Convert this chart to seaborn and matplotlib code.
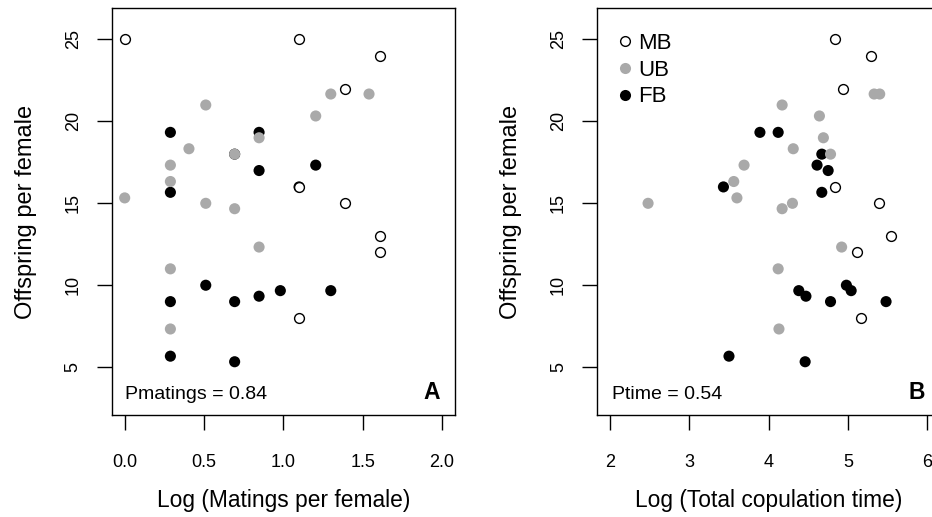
import numpy as np
import pandas as pd
import matplotlib
matplotlib.use("Agg")
import matplotlib.pyplot as plt
import seaborn as sns
from matplotlib.lines import Line2D

# ---------------- data ----------------
# Panel A: log(matings per female) vs offspring per female
a_mb_x = [0.0, 1.099, 1.609, 1.386, 1.099, 1.386, 1.609, 1.609, 1.099]
a_mb_y = [25.0, 25.0, 24.0, 22.0, 16.0, 15.0, 13.0, 12.0, 8.0]
a_ub_x = [0.0, 0.511, 1.299, 1.540, 1.204, 0.405, 0.693, 0.847, 0.288, 0.288,
          0.511, 0.693, 0.847, 0.288, 0.288]
a_ub_y = [15.33, 21.0, 21.67, 21.67, 20.33, 18.33, 18.0, 19.0, 17.33, 16.33,
          15.0, 14.67, 12.33, 11.0, 7.33]
a_fb_x = [0.288, 0.847, 1.204, 0.847, 0.288, 0.511, 0.288, 0.693, 0.847, 0.981,
          1.299, 0.288, 0.693, 0.693, 1.099]
a_fb_y = [19.33, 19.33, 17.33, 17.0, 15.67, 10.0, 9.0, 9.0, 9.33, 9.67,
          9.67, 5.67, 5.33, 18.0, 16.0]

# Panel B: log(total copulation time) vs offspring per female
b_mb_x = [4.84, 5.29, 4.94, 4.84, 5.39, 5.54, 5.11, 5.16]
b_mb_y = [25.0, 24.0, 22.0, 16.0, 15.0, 13.0, 12.0, 8.0]
b_ub_x = [2.48, 4.17, 5.33, 5.40, 4.64, 4.69, 4.31, 4.78, 3.69, 3.56,
          3.60, 4.30, 4.17, 4.92, 4.12, 4.13]
b_ub_y = [15.0, 21.0, 21.67, 21.67, 20.33, 19.0, 18.33, 18.0, 17.33, 16.33,
          15.33, 15.0, 14.67, 12.33, 11.0, 7.33]
b_fb_x = [3.89, 4.12, 4.67, 4.61, 4.75, 3.43, 4.67, 4.38, 4.47, 4.78,
          4.98, 5.04, 5.48, 3.50, 4.46]
b_fb_y = [19.33, 19.33, 18.0, 17.33, 17.0, 16.0, 15.67, 9.67, 9.33, 9.0,
          10.0, 9.67, 9.0, 5.67, 5.33]

groups = ["MB", "UB", "FB"]
y_ticks = [5, 10, 15, 20, 25]
a_xticks = [0.0, 0.5, 1.0, 1.5, 2.0]
a_xticklabels = ["0.0", "0.5", "1.0", "1.5", "2.0"]
b_xticks = [2, 3, 4, 5, 6]
b_xticklabels = ["2", "3", "4", "5", "6"]

# ---------------- style ----------------
sns.set_theme(style="white")
plt.rcParams["font.family"] = ["Liberation Sans", "DejaVu Sans"]
plt.rcParams["axes.linewidth"] = 1.0
plt.rcParams["text.color"] = "black"

GRAY = "#A9A9A9"
S_FILL = 64
S_OPEN = 50

fig = plt.figure(figsize=(9.32, 5.17), dpi=100)
W, H = 932, 517


def px_axes(l, t, r, b):
    return fig.add_axes([l / W, 1 - b / H, (r - l) / W, (b - t) / H])


axA = px_axes(112, 8, 454.7, 415)
axB = px_axes(597.3, 8, 940, 415)


def draw(ax, mbx, mby, ubx, uby, fbx, fby):
    sns.scatterplot(x=fbx, y=fby, ax=ax, color="black", s=S_FILL,
                    edgecolor="none", linewidth=0, zorder=3)
    sns.scatterplot(x=ubx, y=uby, ax=ax, color=GRAY, s=S_FILL,
                    edgecolor="none", linewidth=0, zorder=4)
    sns.scatterplot(x=mbx, y=mby, ax=ax, facecolor="white", s=S_OPEN,
                    edgecolor="black", linewidth=1.0, zorder=5)


draw(axA, a_mb_x, a_mb_y, a_ub_x, a_ub_y, a_fb_x, a_fb_y)
draw(axB, b_mb_x, b_mb_y, b_ub_x, b_ub_y, b_fb_x, b_fb_y)

for ax, xl, xt, xtl, xlabel in [
    (axA, (-0.08, 2.08), a_xticks, a_xticklabels, "Log (Matings per female)"),
    (axB, (1.84, 6.16), b_xticks, b_xticklabels, "Log (Total copulation time)"),
]:
    ax.set_xlim(*xl)
    ax.set_ylim(2.08, 26.92)
    ax.set_xticks(xt)
    ax.set_xticklabels(xtl)
    ax.set_yticks(y_ticks)
    ax.set_yticklabels([str(v) for v in y_ticks], rotation=90, va="center")
    ax.tick_params(axis="both", direction="out", length=10.8, width=1.0,
                   color="black", labelsize=13, labelcolor="black",
                   bottom=True, left=True)
    ax.tick_params(axis="x", pad=17)
    ax.tick_params(axis="y", pad=11)
    for sp in ax.spines.values():
        sp.set_visible(True)
        sp.set_color("black")
        sp.set_linewidth(1.0)
    ax.set_xlabel(xlabel, fontsize=16.4, labelpad=13, color="black")
    ax.set_ylabel("Offspring per female", fontsize=17, labelpad=20,
                  color="black")
    ax.grid(False)

axA.text(0.038, 0.039, "Pmatings = 0.84", transform=axA.transAxes,
         fontsize=14, ha="left", va="baseline", color="black")
axA.text(0.957, 0.039, "A", transform=axA.transAxes, fontsize=16.5,
         fontweight="bold", ha="right", va="baseline", color="black")

axB.text(0.043, 0.039, "Ptime = 0.54", transform=axB.transAxes,
         fontsize=14, ha="left", va="baseline", color="black")
axB.text(0.957, 0.039, "B", transform=axB.transAxes, fontsize=16.5,
         fontweight="bold", ha="right", va="baseline", color="black")

handles = [
    Line2D([], [], marker="o", linestyle="none", markerfacecolor="white",
           markeredgecolor="black", markeredgewidth=1.0, markersize=7),
    Line2D([], [], marker="o", linestyle="none", markerfacecolor=GRAY,
           markeredgecolor="none", markersize=8),
    Line2D([], [], marker="o", linestyle="none", markerfacecolor="black",
           markeredgecolor="none", markersize=8),
]
leg = axB.legend(handles, groups, loc="upper left",
                 bbox_to_anchor=(0.06, 0.939), frameon=False, fontsize=16,
                 handlelength=0.6, handletextpad=0.32, labelspacing=0.26,
                 borderaxespad=0, borderpad=0)
for t in leg.get_texts():
    t.set_color("black")

fig.savefig("out.png", dpi=100)
